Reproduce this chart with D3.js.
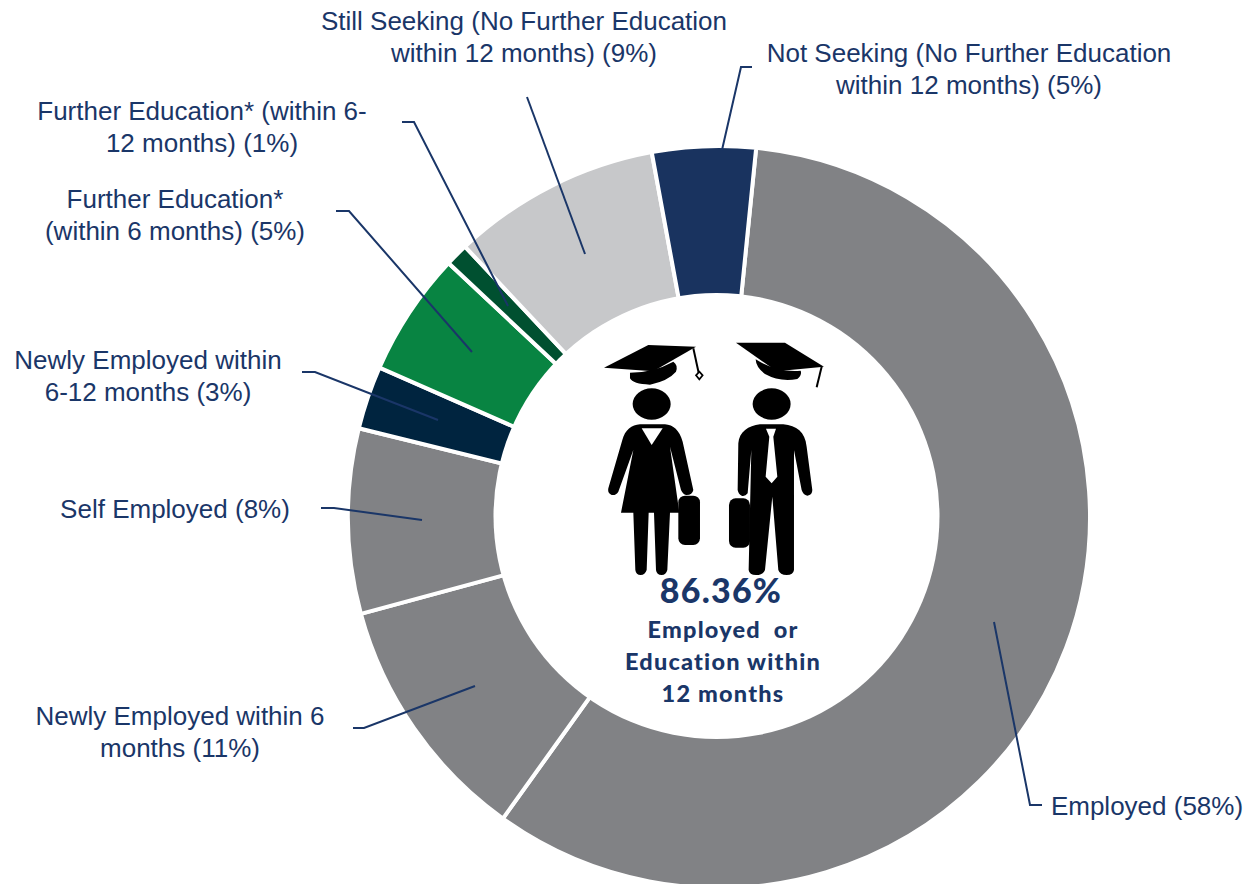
<!DOCTYPE html>
<html>
<head>
<meta charset="utf-8">
<title>Graduate outcomes</title>
<script src="https://cdn.jsdelivr.net/npm/d3@7"></script>
<style>
  html, body { margin: 0; background: #fff; }
  svg { display: block; }
  .label { font-family: "Liberation Sans", Arial, sans-serif; font-size: 26px; fill: #1a3668; text-anchor: middle; }
  .centre { font-family: Lato, sans-serif; font-weight: 900; fill: #1a3668; text-anchor: middle; letter-spacing: 1.2px; }
</style>
</head>
<body>
<script>
const width = 1248, height = 884;
const cx = 719, cy = 517, outerRadius = 371, innerRadius = 210;
// the hole sits slightly off the ring's own centre in the original
const holeX = 716.5, holeY = 516, holeRadius = 223;

// clockwise from the Employed slice (% of ring)
const categories = ["Employed", "Newly Employed 6", "Self Employed", "Newly Employed 6-12",
    "Further Education 6", "Further Education 6-12", "Still Seeking", "Not Seeking"];
const shares = [58.3, 10.9, 8.05, 2.75, 5.4, 1.0, 9.1, 4.5];
const sliceColors = ["#818285", "#818285", "#818285", "#00243f", "#088442", "#005030", "#c7c8ca", "#19335f"];

const labelLines = [
    ["Employed (58%)"],
    ["Newly Employed within 6", "months (11%)"],
    ["Self Employed (8%)"],
    ["Newly Employed within", "6-12 months (3%)"],
    ["Further Education*", "(within 6 months) (5%)"],
    ["Further Education* (within 6-", "12 months) (1%)"],
    ["Still Seeking (No Further Education", "within 12 months) (9%)"],
    ["Not Seeking (No Further Education", "within 12 months) (5%)"]
];

// label centre x / first baseline, then leader polyline
const labelX = [1147, 180, 175, 148, 175, 202, 524, 969];
const labelY = [815, 725, 518, 369, 208, 120, 30, 62];
const leaders = [
    [[1042, 805], [1030, 805], [994, 622]],
    [[353, 728], [364, 728], [475, 686]],
    [[321, 508], [334, 508], [422, 520]],
    [[302, 372], [315, 372], [438, 420]],
    [[336, 211], [349, 211], [472, 352]],
    [[402, 122], [414, 122], [508, 306]],
    [[527, 97], [585, 254]],
    [[752, 67], [741, 67], [722, 150]]
];

const centreLines = ["Employed or", "Education within", "12 months"];

const svg = d3.select("body")
    .append("svg")
    .attr("width", width)
    .attr("height", height);

const pie = d3.pie()
    .sort(null)
    .startAngle(5.75 * Math.PI / 180)
    .endAngle((360 + 5.75) * Math.PI / 180);

const arc = d3.arc()
    .innerRadius(innerRadius)
    .outerRadius(outerRadius);

svg.append("g")
    .attr("transform", "translate(" + cx + "," + cy + ")")
    .selectAll("path")
    .data(pie(shares))
    .enter()
    .append("path")
    .attr("d", arc)
    .attr("fill", (d, i) => sliceColors[i])
    .attr("stroke", "#fff")
    .attr("stroke-width", 4);

svg.append("circle")
    .attr("cx", holeX)
    .attr("cy", holeY)
    .attr("r", holeRadius)
    .attr("fill", "#fff");

// the two graduates, traced at 3x from the crop
const people = svg.append("g")
    .attr("transform", "translate(590,330) scale(0.3333)")
    .attr("fill", "#000");

// woman
people.append("path").attr("d", "M42 113 L175 45 L318 50 L190 124 Z");
people.append("path").attr("d", "M120 128 Q190 128 250 95 Q265 105 258 125 Q235 152 180 164 Q128 162 120 145 Z");
people.append("path").attr("d", "M310 55 L326 128").attr("stroke", "#000").attr("stroke-width", 6).attr("fill", "none");
people.append("path").attr("d", "M328 125 L338 136 L328 148 L318 136 Z").attr("fill", "#fff").attr("stroke", "#000").attr("stroke-width", 5);
people.append("ellipse").attr("cx", 185).attr("cy", 222).attr("rx", 57).attr("ry", 47);
people.append("path").attr("d", "M150 283 L225 283 C250 285 268 300 278 335 L310 480 Q307 495 290 495 Q280 495 273 480 L240 350 L268 548 L240 548 L232 720 Q228 735 215 735 Q200 735 198 720 L192 548 L176 548 L170 720 Q165 735 152 735 Q138 735 136 720 L130 548 L93 548 L130 360 L85 485 Q78 497 65 495 Q52 490 55 475 L97 330 C105 300 125 285 150 283 Z");
people.append("path").attr("d", "M155 295 L218 295 L185 345 Z").attr("fill", "#fff");
people.append("rect").attr("x", 265).attr("y", 497).attr("width", 65).attr("height", 148).attr("rx", 20);

// man
people.append("path").attr("d", "M438 38 L585 38 L702 110 L560 124 Z");
people.append("path").attr("d", "M497 88 Q560 128 632 122 Q637 135 622 147 Q570 157 525 132 Q498 112 497 88 Z");
people.append("path").attr("d", "M695 110 L680 172").attr("stroke", "#000").attr("stroke-width", 6).attr("fill", "none");
people.append("ellipse").attr("cx", 545).attr("cy", 222).attr("rx", 57).attr("ry", 47);
people.append("path").attr("d", "M510 283 L580 283 C620 287 645 305 650 350 L667 480 Q667 495 652 497 Q640 495 635 480 L612 360 L612 720 Q610 735 590 735 Q570 735 565 720 L547 500 L525 720 Q520 735 498 735 Q478 735 476 720 L484 360 L473 490 Q465 500 455 497 Q445 492 443 480 L445 340 C448 305 475 287 510 283 Z");
people.append("path").attr("d", "M528 296 L558 296 L550 320 L562 440 L545 460 L527 440 L538 320 Z").attr("fill", "#fff");
people.append("rect").attr("x", 417).attr("y", 505).attr("width", 63).attr("height", 148).attr("rx", 20);

// leader lines
const line = d3.line();
svg.append("g")
    .selectAll("path")
    .data(leaders)
    .enter()
    .append("path")
    .attr("d", line)
    .attr("fill", "none")
    .attr("stroke", "#1a3668")
    .attr("stroke-width", 2);

// slice labels
categories.forEach((name, i) => {
    labelLines[i].forEach((t, j) => {
        svg.append("text")
            .attr("class", "label")
            .attr("x", labelX[i])
            .attr("y", labelY[i] + j * 32)
            .text(t);
    });
});

// centre text
svg.append("text")
    .attr("class", "centre")
    .attr("x", 721)
    .attr("y", 603)
    .attr("font-size", 34)
    .text("86.36%");

svg.selectAll("text.sub")
    .data(centreLines)
    .enter()
    .append("text")
    .attr("class", "centre sub")
    .attr("x", 723)
    .attr("y", (d, i) => 638 + i * 32)
    .attr("font-size", 23.5)
    .attr("word-spacing", (d, i) => i === 0 ? 6 : 0)
    .text(d => d);
</script>
</body>
</html>
